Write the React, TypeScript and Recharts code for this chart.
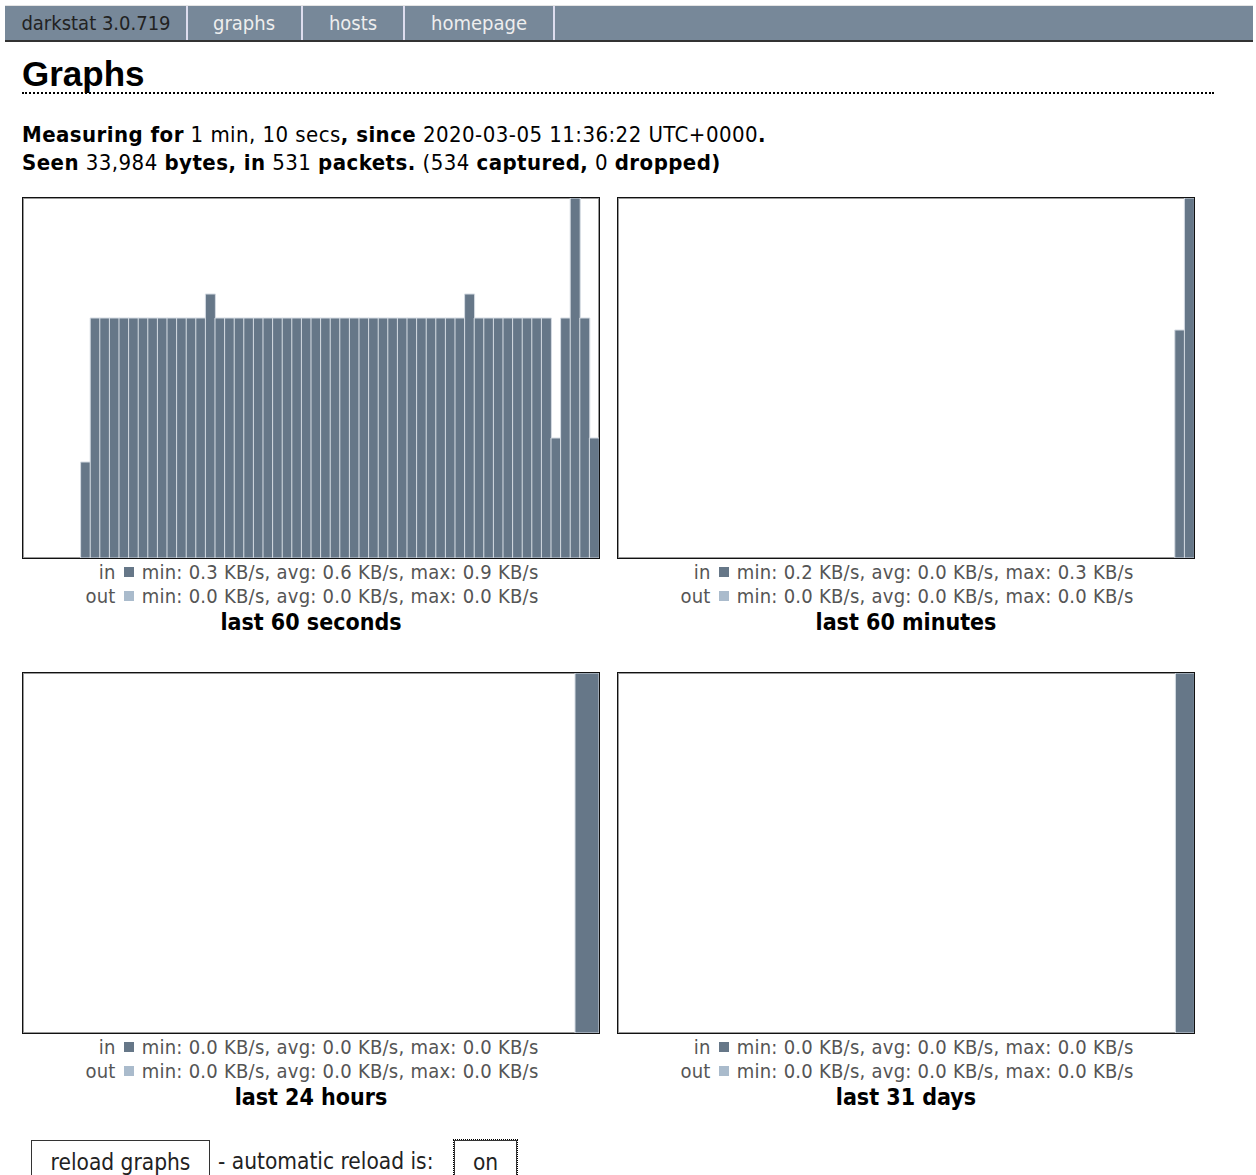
import React from 'react';
import { BarChart, Bar, XAxis, YAxis } from 'recharts';

// darkstat graph data, KB/s
const SECONDS_IN = [
  0, 0, 0, 0, 0, 0, 0.24, 0.6, 0.6, 0.6,
  0.6, 0.6, 0.6, 0.6, 0.6, 0.6, 0.6, 0.6, 0.6, 0.66,
  0.6, 0.6, 0.6, 0.6, 0.6, 0.6, 0.6, 0.6, 0.6, 0.6,
  0.6, 0.6, 0.6, 0.6, 0.6, 0.6, 0.6, 0.6, 0.6, 0.6,
  0.6, 0.6, 0.6, 0.6, 0.6, 0.6, 0.66, 0.6, 0.6, 0.6,
  0.6, 0.6, 0.6, 0.6, 0.6, 0.3, 0.6, 0.9, 0.6, 0.3,
];
const MINUTES_IN = [
  0, 0, 0, 0, 0, 0, 0, 0, 0, 0,
  0, 0, 0, 0, 0, 0, 0, 0, 0, 0,
  0, 0, 0, 0, 0, 0, 0, 0, 0, 0,
  0, 0, 0, 0, 0, 0, 0, 0, 0, 0,
  0, 0, 0, 0, 0, 0, 0, 0, 0, 0,
  0, 0, 0, 0, 0, 0, 0, 0, 0.19, 0.3,
];
const HOURS_IN = [
  0, 0, 0, 0, 0, 0, 0, 0, 0, 0, 0, 0,
  0, 0, 0, 0, 0, 0, 0, 0, 0, 0, 0, 0.01,
];
const DAYS_IN = [
  0, 0, 0, 0, 0, 0, 0, 0, 0, 0,
  0, 0, 0, 0, 0, 0, 0, 0, 0, 0,
  0, 0, 0, 0, 0, 0, 0, 0, 0, 0, 0.005,
];

const STATS = [
  { title: 'last 60 seconds', inText: 'min: 0.3 KB/s, avg: 0.6 KB/s, max: 0.9 KB/s', outText: 'min: 0.0 KB/s, avg: 0.0 KB/s, max: 0.0 KB/s' },
  { title: 'last 60 minutes', inText: 'min: 0.2 KB/s, avg: 0.0 KB/s, max: 0.3 KB/s', outText: 'min: 0.0 KB/s, avg: 0.0 KB/s, max: 0.0 KB/s' },
  { title: 'last 24 hours', inText: 'min: 0.0 KB/s, avg: 0.0 KB/s, max: 0.0 KB/s', outText: 'min: 0.0 KB/s, avg: 0.0 KB/s, max: 0.0 KB/s' },
  { title: 'last 31 days', inText: 'min: 0.0 KB/s, avg: 0.0 KB/s, max: 0.0 KB/s', outText: 'min: 0.0 KB/s, avg: 0.0 KB/s, max: 0.0 KB/s' },
];

const NAV = ['darkstat 3.0.719', 'graphs', 'hosts', 'homepage'];

const FONT = '"DejaVu Sans Condensed", "DejaVu Sans", sans-serif';
const IN_COLOR = '#667788';
const OUT_COLOR = '#aabbcc';

function Graph({ left, top, values, stat }: { left: number; top: number; values: number[]; stat: typeof STATS[0] }) {
  const data = values.map((v, i) => ({ i, in: v, out: 0 }));
  return (
    <div style={{ position: 'absolute', left, top, width: 578 }}>
      <div style={{ width: 576, height: 360, border: '1px solid #111', boxShadow: 'inset 0 0 0 1px #999', background: '#fff' }}>
        <BarChart width={576} height={360} data={data} margin={{ top: 0, right: 0, bottom: 0, left: 0 }} barCategoryGap={0} barGap={0}>
          <XAxis dataKey="i" hide />
          <YAxis hide domain={[0, 'dataMax']} />
          <Bar dataKey="in" stackId="a" fill={IN_COLOR} stroke="#d4dbe2" strokeWidth={1} isAnimationActive={false} />
          <Bar dataKey="out" stackId="a" fill={OUT_COLOR} isAnimationActive={false} />
        </BarChart>
      </div>
      <div style={{ display: 'flex', justifyContent: 'center', marginTop: 1, paddingLeft: 2 }}>
        <div style={{ display: 'grid', gridTemplateColumns: 'auto auto auto', columnGap: 8, alignItems: 'center', color: '#555', fontSize: 20, letterSpacing: 0.25, lineHeight: '24px' }}>
          <span style={{ textAlign: 'right' }}>in</span>
          <span style={{ width: 10, height: 10, background: IN_COLOR, display: 'inline-block' }} />
          <span>{stat.inText}</span>
          <span style={{ textAlign: 'right' }}>out</span>
          <span style={{ width: 10, height: 10, background: OUT_COLOR, display: 'inline-block' }} />
          <span>{stat.outText}</span>
        </div>
      </div>
      <div style={{ textAlign: 'center', fontWeight: 'bold', fontSize: 23, lineHeight: '28px', color: '#000' }}>{stat.title}</div>
    </div>
  );
}

export default function App() {
  const navWidths = [182, 116, 102, 150];
  let x = 5;
  return (
    <div style={{ position: 'absolute', left: 0, top: 0, width: 1256, height: 1175, overflow: 'hidden', background: '#fff', fontFamily: FONT }}>
      {/* nav bar */}
      <div style={{ position: 'absolute', left: 5, top: 5, width: 1248, height: 1, background: '#e4e4e4' }} />
      <div style={{ position: 'absolute', left: 5, top: 6, width: 1248, height: 34, background: '#778899', borderBottom: '2px solid #333' }} />
      {NAV.map((n, i) => {
        const l = x;
        x += navWidths[i];
        return (
          <div key={n} style={{ position: 'absolute', left: l + (i === 0 ? 1 : 0), top: 6, width: navWidths[i] - 2, height: 34, lineHeight: '34px', textAlign: 'center', fontSize: 20, color: i === 0 ? '#222' : '#eee', borderRight: '2px solid #dde' }}>{n}</div>
        );
      })}

      <div style={{ position: 'absolute', left: 22, top: 57, fontFamily: '"Liberation Sans", Arial, sans-serif', fontWeight: 'bold', fontSize: 35, lineHeight: '34px', color: '#000' }}>Graphs</div>
      <div style={{ position: 'absolute', left: 22, top: 92, width: 1192, borderTop: '2px dotted #000' }} />

      <div style={{ position: 'absolute', left: 22, top: 121, fontSize: 22, letterSpacing: 0.45, lineHeight: '28px', color: '#000', whiteSpace: 'nowrap' }}>
        <div><b>Measuring for</b> 1 min, 10 secs<b>, since</b> 2020-03-05 11:36:22 UTC+0000<b>.</b></div>
        <div><b>Seen</b> 33,984 <b>bytes, in</b> 531 <b>packets.</b> (534 <b>captured,</b> 0 <b>dropped)</b></div>
      </div>

      <Graph left={22} top={197} values={SECONDS_IN} stat={STATS[0]} />
      <Graph left={617} top={197} values={MINUTES_IN} stat={STATS[1]} />
      <Graph left={22} top={672} values={HOURS_IN} stat={STATS[2]} />
      <Graph left={617} top={672} values={DAYS_IN} stat={STATS[3]} />

      <div style={{ position: 'absolute', left: 31, top: 1140, width: 177, height: 44, border: '1px solid #333', fontSize: 22.5, lineHeight: '42px', textAlign: 'center', color: '#222' }}>reload graphs</div>
      <div style={{ position: 'absolute', left: 218, top: 1140, fontSize: 22.5, lineHeight: '42px', color: '#222', whiteSpace: 'nowrap' }}>- automatic reload is:</div>
      <div style={{ position: 'absolute', left: 454, top: 1140, width: 61, height: 44, border: '1px solid #333', outline: '1px dotted #000', outlineOffset: 0, fontSize: 22.5, lineHeight: '42px', textAlign: 'center', color: '#222' }}>on</div>
    </div>
  );
}
